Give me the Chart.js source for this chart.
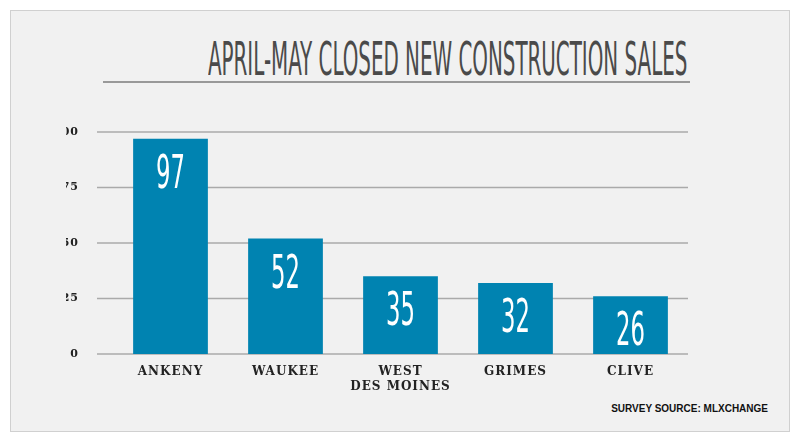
<!DOCTYPE html>
<html><head><meta charset="utf-8">
<script src="https://cdn.jsdelivr.net/npm/chart.js@4"></script>
<style>
body{margin:0;background:#fff;width:800px;height:443px;position:relative;overflow:hidden}
#frame{position:absolute;left:10px;top:10px;width:778px;height:420px;background:#f1f1f1;border:1px solid #d0d0d0}
#title{position:absolute;left:0;width:800px;top:32px;text-align:center;font-family:"Liberation Sans Narrow","DejaVu Sans Condensed",sans-serif;font-size:46px;color:#4a4a4a;transform:scaleX(0.48);transform-origin:400px 0;white-space:nowrap}
#rule{position:absolute;left:103px;top:81px;width:587px;height:1.5px;background:#999}
#src{position:absolute;right:32px;top:403px;font-family:"Liberation Sans",Arial,sans-serif;font-weight:bold;font-size:10px;color:#111}
canvas{position:absolute;left:0;top:0}
</style></head><body>
<div id="frame"></div>
<div id="title">APRIL-MAY CLOSED NEW CONSTRUCTION SALES</div>
<div id="rule"></div>
<div id="src">SURVEY SOURCE: MLXCHANGE</div>
<canvas id="c" width="800" height="443"></canvas>
<script>
const categories=["ANKENY","WAUKEE",["WEST","DES MOINES"],"GRIMES","CLIVE"];
const sales=[97,52,35,32,26];
const yTicks=[0,25,50,75,100];
const gridPlugin={id:'grd',beforeDraw(ch){ch.ctx.letterSpacing='1px';},
beforeDatasetsDraw(ch){const ctx=ch.ctx,y=ch.scales.y;ctx.save();ctx.strokeStyle='#aaa';ctx.lineWidth=1.5;
yTicks.forEach(v=>{const p=y.getPixelForValue(v);ctx.beginPath();ctx.moveTo(97,p);ctx.lineTo(ch.chartArea.right,p);ctx.stroke();});ctx.restore();}};
const labelPlugin={id:'lbl',afterDatasetsDraw(ch){const ctx=ch.ctx;const m=ch.getDatasetMeta(0);
ctx.save();ctx.letterSpacing='0px';ctx.fillStyle='#fff';ctx.textAlign='center';ctx.textBaseline='top';
ctx.font='46px "Liberation Sans Narrow","DejaVu Sans Condensed",sans-serif';
m.data.forEach((b,i)=>{ctx.save();ctx.translate(b.x,b.y+14);ctx.scale(0.55,1);ctx.fillText(String(sales[i]),0,0);ctx.restore();});
ctx.restore();}};
new Chart(document.getElementById('c'),{type:'bar',
data:{labels:categories,datasets:[{data:sales,backgroundColor:'#0083b1',barPercentage:0.65,categoryPercentage:1}]},
options:{responsive:false,animation:false,
layout:{padding:{left:66,right:112,top:132,bottom:20}},
plugins:{legend:{display:false},tooltip:{enabled:false}},
scales:{
y:{min:0,max:100,afterBuildTicks(s){s.ticks=yTicks.map(v=>({value:v}));},afterFit(s){s.width=47;},
grid:{display:false},border:{display:false},
ticks:{color:'#222',padding:26,font:{family:'"DejaVu Serif"',weight:'bold',size:11}}},
x:{afterFit(s){s.height=69;},grid:{display:false},border:{display:false},
ticks:{color:'#222',padding:3,font:{family:'"DejaVu Serif"',weight:'bold',size:12}}}}},
plugins:[gridPlugin,labelPlugin]});
</script></body></html>
